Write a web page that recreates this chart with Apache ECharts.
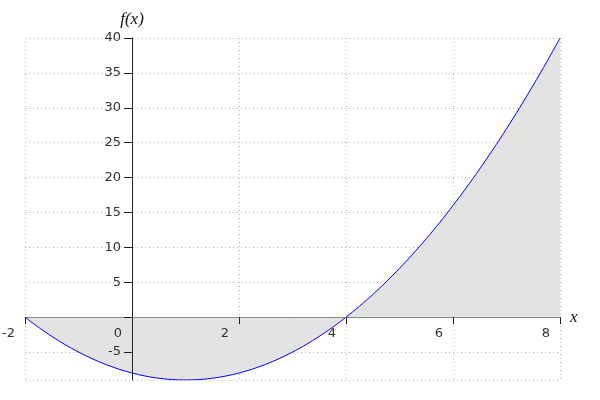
<!DOCTYPE html>
<html>
<head>
<meta charset="utf-8">
<script src="https://cdn.jsdelivr.net/npm/echarts@6/dist/echarts.min.js"></script>
<style>html,body{margin:0;padding:0;background:#fff}#c{width:600px;height:400px}</style>
</head>
<body>
<div id="c"></div>
<script>
const xValues = [-2,-1.75,-1.5,-1.25,-1,-0.75,-0.5,-0.25,0,0.25,0.5,0.75,1,1.25,1.5,1.75,2,2.25,2.5,2.75,3,3.25,3.5,3.75,4,4.25,4.5,4.75,5,5.25,5.5,5.75,6,6.25,6.5,6.75,7,7.25,7.5,7.75,8];
const fValues = [0,-1.44,-2.75,-3.94,-5,-5.94,-6.75,-7.44,-8,-8.44,-8.75,-8.94,-9,-8.94,-8.75,-8.44,-8,-7.44,-6.75,-5.94,-5,-3.94,-2.75,-1.44,0,1.56,3.25,5.06,7,9.06,11.25,13.56,16,18.56,21.25,24.06,27,30.06,33.25,36.56,40];
const yTickValues = [-5,0,5,10,15,20,25,30,35,40];
const yLabelValues = [-5,5,10,15,20,25,30,35,40];
const xTickInterval = 2;
const xMin = -2, xMax = 8, yMin = -9, yMax = 40;

const chart = echarts.init(document.getElementById('c'), null, {renderer:'canvas'});
const labelFont = {color:'#333', fontSize:13, fontFamily:'DejaVu Sans'};
const nameFont = {color:'#111', fontSize:17, fontStyle:'italic', fontFamily:'Liberation Serif'};
const grid = {type:[1,3], color:'#b4b4b4', width:1};
const hidden = {axisLine:{show:false}, axisTick:{show:false}, axisLabel:{show:false}};
chart.setOption({
  animation:false,
  grid:{left:25, right:40, top:38, bottom:20, containLabel:false, outerBoundsMode:'none'},
  xAxis:[{
    type:'value', min:xMin, max:xMax, interval:xTickInterval, position:'bottom', offset:0, z:10,
    name:'x', nameLocation:'end', nameGap:10, nameTextStyle:Object.assign({padding:[7,0,0,0]}, nameFont),
    axisLine:{onZero:false, lineStyle:{color:'#888', width:1}},
    axisTick:{show:true, length:7, lineStyle:{color:'#222'}},
    axisLabel:Object.assign({margin:10, align:'right', padding:[0,10,0,0], showMinLabel:true, showMaxLabel:true, hideOverlap:false}, labelFont),
    splitLine:{show:false}
  }, Object.assign({
    type:'value', min:xMin, max:xMax, interval:xTickInterval, position:'top', z:0,
    splitLine:{show:true, lineStyle:grid}
  }, hidden)],
  yAxis:[{
    type:'value', min:yMin, max:yMax, position:'left', offset:0, z:10,
    name:'f(x)', nameLocation:'end', nameGap:10, nameTextStyle:nameFont,
    axisLine:{show:true, onZero:false, lineStyle:{color:'#222', width:1}},
    axisTick:{show:true, length:8, customValues:yTickValues, lineStyle:{color:'#222'}},
    axisLabel:Object.assign({margin:11, customValues:yLabelValues, hideOverlap:false}, labelFont),
    splitLine:{show:false}
  }, Object.assign({
    type:'value', min:yMin, max:yMax, position:'right', z:0,
    axisTick:{show:false, customValues:yTickValues},
    splitLine:{show:true, lineStyle:grid}
  }, {axisLine:{show:false}, axisLabel:{show:false}})],
  series:[{
    type:'line',
    xAxisIndex:0, yAxisIndex:0,
    data:xValues.map((x,i)=>[x,fValues[i]]),
    showSymbol:false, smooth:0.3,
    lineStyle:{color:'#0000ff', width:1},
    areaStyle:{color:'#e3e3e3', opacity:1, origin:'auto'},
    z:2,
    markLine:{
      silent:true, symbol:'none', label:{show:false}, z:0,
      lineStyle:{type:[1,3], color:'#b4b4b4', width:1},
      data:[{yAxis:yMin}]
    }
  }]
});
// move both axes to cross at zero using the library's own scales
const xZeroPx = chart.convertToPixel({xAxisIndex:0}, 0);
const xLeftPx = chart.convertToPixel({xAxisIndex:0}, xMin);
const yZeroPx = chart.convertToPixel({yAxisIndex:0}, 0);
const yBottomPx = chart.convertToPixel({yAxisIndex:0}, yMin);
chart.setOption({
  xAxis:[{offset:-(yBottomPx - yZeroPx)}, {}],
  yAxis:[{offset:-(xZeroPx - xLeftPx)}, {}]
});
</script>
</body>
</html>
